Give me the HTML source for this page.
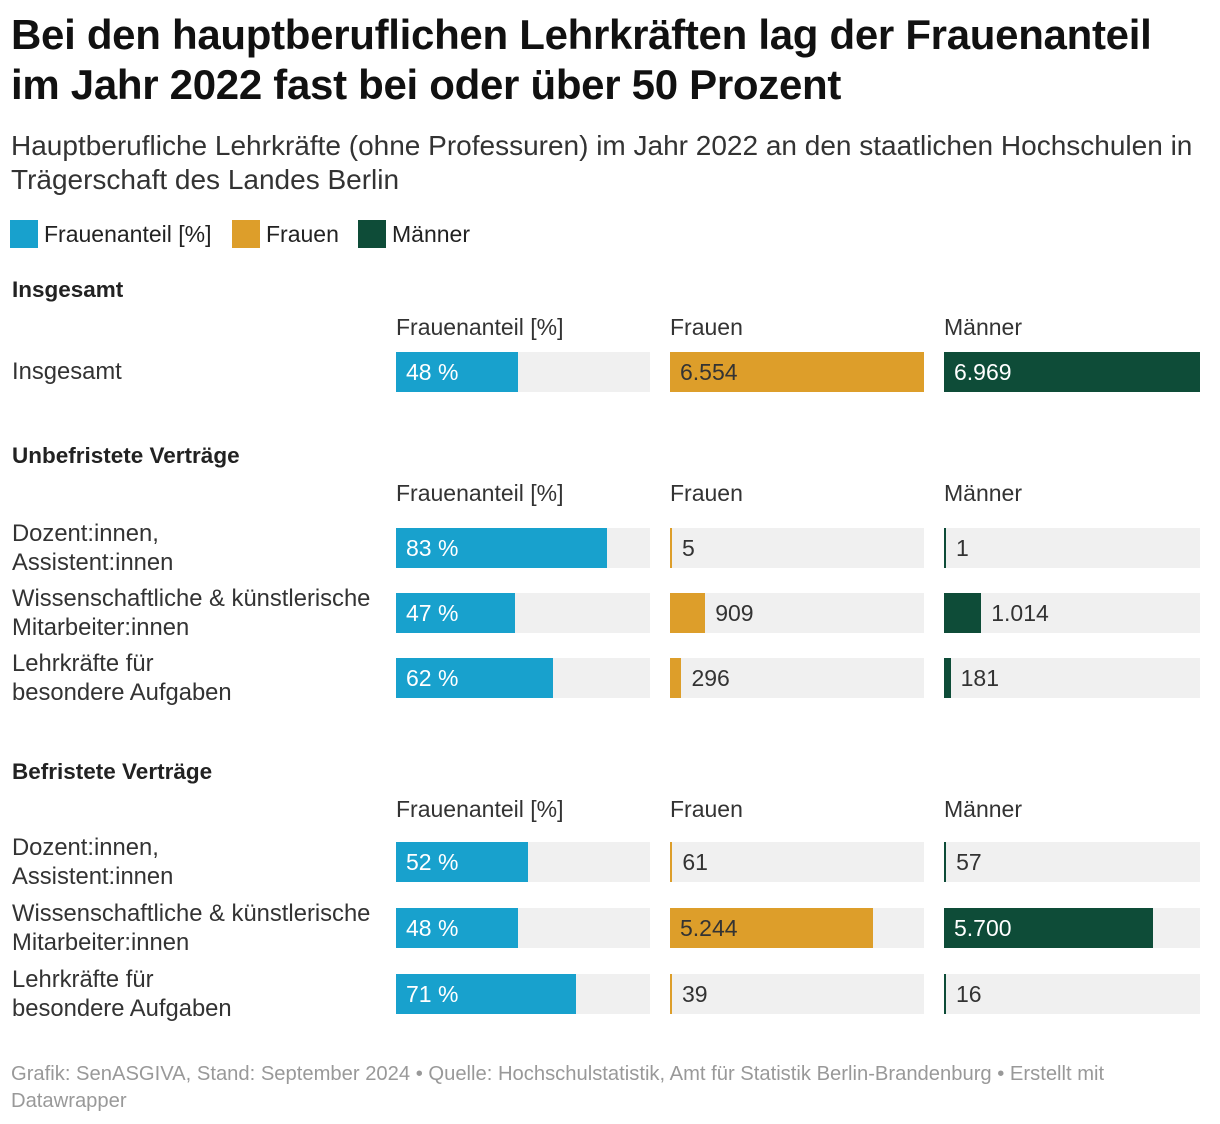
<!DOCTYPE html>
<html><head><meta charset="utf-8">
<style>
body{margin:0;width:1220px;height:1124px;background:#fff;font-family:"Liberation Sans",sans-serif;color:#222;position:relative;overflow:hidden}
.abs{position:absolute;white-space:nowrap}
h1{position:absolute;left:11px;top:10px;margin:0;font-size:42px;line-height:50px;font-weight:bold;letter-spacing:-0.3px;color:#111}
.sub{left:11px;top:129px;font-size:28px;line-height:34px;color:#333;white-space:normal;width:1205px}
.leg{top:220px;font-size:23px;display:flex;align-items:center}
.sw{width:28px;height:28px;display:inline-block;margin-right:6px}
.sec{left:12px;font-size:22.5px;font-weight:bold;color:#222}
.hdr{font-size:23px;color:#333}
.lab{left:12px;font-size:23.8px;line-height:29px;color:#333}
.bg{background:#f0f0f0;height:40px}
.bar{height:40px}
.val{font-size:23px;line-height:40px}
.foot{left:11px;top:1061px;font-size:20.2px;line-height:27px;color:#999;white-space:normal;width:1195px}
</style></head><body>
<h1>Bei den hauptberuflichen Lehrkräften lag der Frauenanteil<br>im Jahr 2022 fast bei oder über 50 Prozent</h1>
<div class="abs sub">Hauptberufliche Lehrkräfte (ohne Professuren) im Jahr 2022 an den staatlichen Hochschulen in Trägerschaft des Landes Berlin</div>
<div class="abs leg" style="left:10px"><span class="sw" style="background:#18a1cd"></span>Frauenanteil [%]</div>
<div class="abs leg" style="left:232px"><span class="sw" style="background:#dd9e2a"></span>Frauen</div>
<div class="abs leg" style="left:358px"><span class="sw" style="background:#0e4c38"></span>Männer</div>
<div class="abs foot">Grafik: SenASGIVA, Stand: September 2024 • Quelle: Hochschulstatistik, Amt für Statistik Berlin-Brandenburg • Erstellt mit Datawrapper</div>
<script>
const sections=["Insgesamt","Unbefristete Verträge","Befristete Verträge"];
const rowLabels=[["Insgesamt"],["Dozent:innen,<br>Assistent:innen","Wissenschaftliche &amp; künstlerische<br>Mitarbeiter:innen","Lehrkräfte für<br>besondere Aufgaben"],["Dozent:innen,<br>Assistent:innen","Wissenschaftliche &amp; künstlerische<br>Mitarbeiter:innen","Lehrkräfte für<br>besondere Aufgaben"]];
const anteil=[[48],[83,47,62],[52,48,71]];
const frauen=[[6554],[5,909,296],[61,5244,39]];
const maenner=[[6969],[1,1014,181],[57,5700,16]];
const headers=["Frauenanteil [%]","Frauen","Männer"];
const secTop=[290,456,772];
const colX=[396,670,944], colW=[254,254,256];
const colors=["#18a1cd","#dd9e2a","#0e4c38"];
const textIn=["#fff","#333","#fff"];
const maxF=Math.max(...frauen.flat()), maxM=Math.max(...maenner.flat());
const fmt=v=>String(v).replace(/\B(?=(\d{3})+(?!\d))/g,".");
function add(cls,style,html,name){const d=document.createElement('div');d.className='abs '+cls;d.style.cssText=style;d.innerHTML=html;


document.body.appendChild(d);return d;}
sections.forEach((s,si)=>{
  const t=secTop[si];
  add('sec',`top:${t-13}px`,s,'section-title');
  headers.forEach((h,ci)=>add('hdr',`left:${colX[ci]}px;top:${t+24}px`,h,'column-header'));
  rowLabels[si].forEach((lab,ri)=>{
    const rowTop = si===0 ? t+62 : (si===1 ? t+72+ri*65 : t+70+ri*66);
    const two=lab.includes('<br>');
    add('lab',`top:${two?rowTop-9:rowTop+5}px`,lab,'row-label');
    const vals=[anteil[si][ri],frauen[si][ri],maenner[si][ri]];
    const scales=[v=>v/100,v=>v/maxF,v=>v/maxM];
    vals.forEach((v,ci)=>{
      add('bg',`left:${colX[ci]}px;top:${rowTop}px;width:${colW[ci]}px`,'','bar-background');
      const w=Math.max(2,scales[ci](v)*colW[ci]);
      add('bar',`left:${colX[ci]}px;top:${rowTop}px;width:${w}px;background:${colors[ci]}`,'','bar');
      const txt=ci===0?v+' %':fmt(v);
      const inside=w>90;
      add('val',`left:${inside?colX[ci]+10:colX[ci]+w+10}px;top:${rowTop}px;color:${inside?textIn[ci]:'#333'}`,txt,'bar-value');
    });
  });
});
</script>
</body></html>
